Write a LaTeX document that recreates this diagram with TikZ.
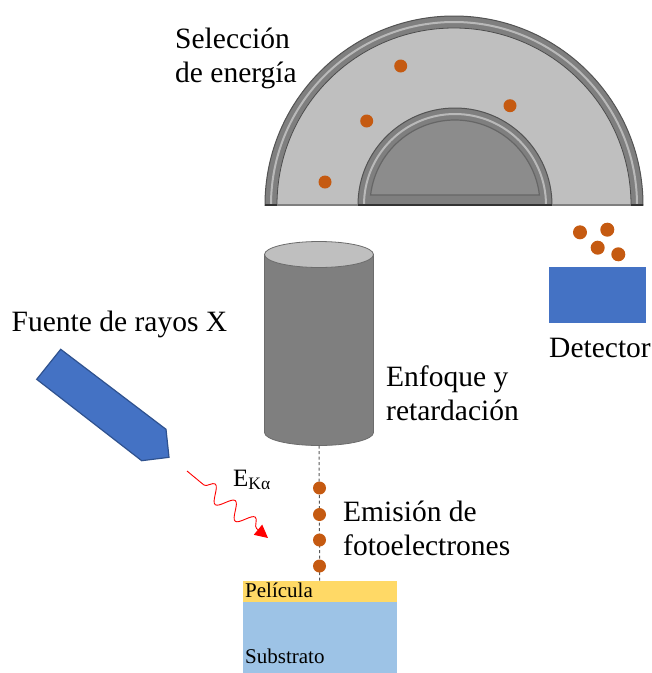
\documentclass[tikz,border=0pt]{standalone}
\usepackage{fontspec}
\setmainfont{LiberationSerif}[Extension=.ttf, UprightFont=*-Regular, BoldFont=*-Bold, ItalicFont=*-Italic, BoldItalicFont=*-BoldItalic]
\usetikzlibrary{arrows.meta,decorations.pathmorphing}

\definecolor{shellgray}{HTML}{7F7F7F}
\definecolor{gapgray}{HTML}{BFBFBF}
\definecolor{coregray}{HTML}{8C8C8C}
\definecolor{eorange}{HTML}{C55A11}
\definecolor{detblue}{HTML}{4472C4}
\definecolor{detedge}{HTML}{2F528F}
\definecolor{filmyellow}{HTML}{FFD966}
\definecolor{subblue}{HTML}{9DC3E6}

\tikzset{
    electron/.style={circle, fill=eorange, inner sep=0pt, minimum size=13pt},
    label text/.style={font=\fontsize{29.5}{34}\selectfont, inner sep=0pt, anchor=base west, align=left},
    small text/.style={font=\fontsize{21}{24}\selectfont, inner sep=0pt, anchor=base west},
    layer/.style={inner sep=0pt, minimum width=154pt, anchor=north west},
    beam/.style={draw=black!65, line width=1pt, dash pattern=on 3pt off 2.5pt},
    xray/.style={red, line width=0.9pt, decorate,
        decoration={snake, amplitude=8pt, segment length=26pt, pre length=22pt, post length=14pt},
        -{Triangle[length=13pt, width=13pt]}}
}

\begin{document}
\begin{tikzpicture}[x=1pt, y=-1pt]
    \useasboundingbox (0,0) rectangle (652,673);

    % hemispherical analyser
    \filldraw[fill=shellgray, draw=shellgray!65!black, line width=1pt] (265,205) arc[start angle=180, end angle=0, radius=189pt] -- cycle;
    \draw[shellgray!55!white, line width=2pt] (271,205) arc[start angle=180, end angle=0, radius=183pt];
    \filldraw[fill=gapgray, draw=shellgray!60!black, line width=0.8pt] (277,205) arc[start angle=180, end angle=0, radius=177pt] -- cycle;
    \filldraw[fill=shellgray, draw=shellgray!65!black, line width=1pt] (358,205) arc[start angle=180, end angle=0, radius=97pt] -- cycle;
    \draw[shellgray!55!white, line width=2pt] (364,205) arc[start angle=180, end angle=0, radius=91pt];
    \filldraw[fill=coregray, draw=black!60, line width=1.2pt] (370.6,195) arc[start angle=173.25, end angle=6.75, radius=85pt] -- cycle;
    \draw[shellgray, line width=1.5pt] (265,205) -- (643,205);
    \draw[black!80, line width=2pt] (265,205) -- (277,205) (631,205) -- (643,205) (358,205) -- (552,205);

    \begin{scope}[every node/.style={electron}]
        \node (a1) at (400.7,66) {};
        \node (a2) at (510,105.7) {};
        \node (a3) at (366.7,121) {};
        \node (a4) at (325,182) {};
    \end{scope}
    \node (sel) [label text] at (175,82) {Selección\\de energía};

    % detector
    \node (det) [fill=detblue, minimum width=97pt, minimum height=56pt, inner sep=0pt, anchor=north west] at (549,267) {};
    \begin{scope}[every node/.style={electron, minimum size=14pt}]
        \node (d1) at (580,232.3) {};
        \node (d2) at (607.3,229.7) {};
        \node (d3) at (597.7,247.7) {};
        \node (d4) at (618.3,254.3) {};
    \end{scope}
    \node (detlabel) [label text, anchor=base] at (600,357) {Detector};

    % lens column
    \filldraw[fill=shellgray, draw=shellgray!85!black, line width=0.8pt] (264.5,254.5) -- (264.5,432.5) arc[start angle=180, end angle=360, x radius=54.5pt, y radius=13pt] -- (373.5,254.5) -- cycle;
    \filldraw[fill=gapgray, draw=shellgray!85!black, line width=0.8pt] (319,254.5) ellipse[x radius=54.5pt, y radius=13pt];
    \coordinate (lens) at (319,445.5);
    \node (lenslabel) [label text] at (386,420) {Enfoque y\\retardación};

    % sample
    \node (film) [layer, fill=filmyellow, minimum height=22pt] at (242.5,580.5) {};
    \node (sub) [layer, fill=subblue, minimum height=71pt] at (242.5,602) {};
    \node (filmlabel) [small text] at (245,597) {Película};
    \node (sublabel) [small text] at (245,663) {Substrato};

    \draw[beam] (lens) -- (film.north);
    \begin{scope}[every node/.style={electron}]
        \node (p1) at (319.5,488) {};
        \node (p2) at (319.5,514.5) {};
        \node (p3) at (319.5,540) {};
        \node (p4) at (319.5,566) {};
    \end{scope}
    \node (emlabel) [label text] at (343,555) {Emisión de\\fotoelectrones};

    % x-ray source
    \filldraw[fill=detblue, draw=detedge, line width=1.2pt] (60.7,349.3) -- (36.7,379.3) -- (141.7,460.7) -- (169,457.3) -- (166,429.3) -- cycle;
    \node (srclabel) [label text] at (11.5,331.5) {Fuente de rayos X};
    \coordinate (xsrc) at (187,471);
    \coordinate (xhit) at (268,538);
    \draw[xray] (xsrc) -- (xhit);
    \node (ekalpha) [inner sep=0pt, anchor=base west, font=\fontsize{25}{25}\selectfont] at (233,486) {E\textsubscript{Kα}};
\end{tikzpicture}
\end{document}
